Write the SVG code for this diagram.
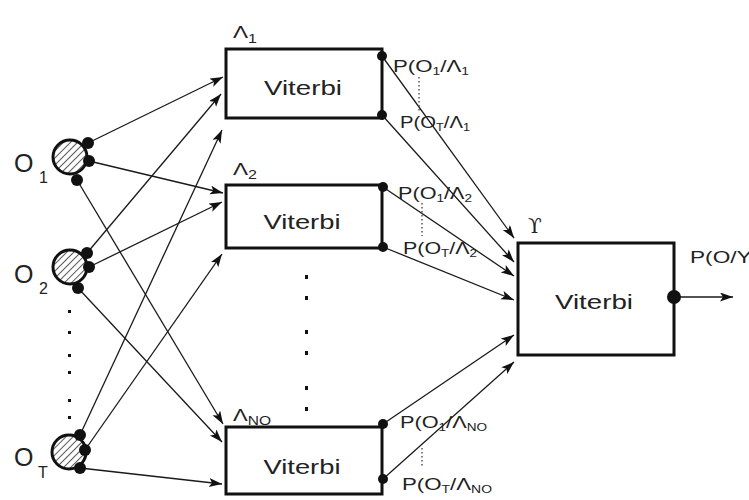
<svg xmlns="http://www.w3.org/2000/svg" width="749" height="500" viewBox="0 0 749 500">
<style>
.box{fill:#fff;stroke:#111;stroke-width:3}
.obs{fill:url(#hatch);stroke:#111;stroke-width:3}
.dot{fill:#111}
.edge{stroke:#1a1a1a;stroke-width:1.3;fill:none;marker-end:url(#arr)}
.vt{font-family:"Liberation Sans",Arial,sans-serif;font-size:21px;fill:#222}
.lbl{font-family:"Liberation Sans",Arial,sans-serif;font-size:16px;fill:#222}
.sub{font-size:10px}
.big{font-family:"Liberation Sans",Arial,sans-serif;font-size:25px;fill:#222}
.lam{font-family:"Liberation Sans",Arial,sans-serif;font-size:17px;fill:#222}
.vdots{stroke:#555;stroke-width:1.5;stroke-dasharray:1.5 2.5}
.ell{fill:#111}
</style>
<defs>
<pattern id="hatch" patternUnits="userSpaceOnUse" width="5" height="5" patternTransform="rotate(45)">
<rect width="5" height="5" fill="#fff"/>
<line x1="0" y1="0" x2="0" y2="5" stroke="#333" stroke-width="1.6"/>
</pattern>
<marker id="arr" markerUnits="userSpaceOnUse" markerWidth="14" markerHeight="10" refX="13" refY="4.5" orient="auto">
<path d="M0,0 L13,4.5 L0,9 L3,4.5 z" fill="#111"/>
</marker>
</defs>

<g id="connectors">
<line class="edge" x1="88" y1="143" x2="223" y2="77"/>
<line class="edge" x1="89" y1="161" x2="223" y2="193"/>
<line class="edge" x1="77" y1="180" x2="223" y2="424"/>
<line class="edge" x1="87" y1="253" x2="221" y2="94"/>
<line class="edge" x1="89" y1="267" x2="222" y2="202"/>
<line class="edge" x1="78" y1="288" x2="222" y2="442"/>
<line class="edge" x1="80" y1="435" x2="222" y2="130"/>
<line class="edge" x1="85" y1="450" x2="222" y2="254"/>
<line class="edge" x1="80" y1="468" x2="222" y2="484"/>
<line class="edge" x1="382" y1="56" x2="514" y2="238"/>
<line class="edge" x1="382" y1="115" x2="514" y2="262"/>
<line class="edge" x1="383" y1="187" x2="514" y2="276"/>
<line class="edge" x1="383" y1="247" x2="514" y2="300"/>
<line class="edge" x1="383" y1="424" x2="514" y2="335"/>
<line class="edge" x1="383" y1="479" x2="514" y2="362"/>
<line class="edge" x1="674" y1="297" x2="733" y2="297"/>
</g>

<g id="obs1">
<circle class="obs" cx="70" cy="157" r="17"/>
<circle class="dot" cx="88" cy="143" r="6"/>
<circle class="dot" cx="89" cy="161" r="6"/>
<circle class="dot" cx="77" cy="180" r="6"/>
<text class="big" x="14" y="172">O</text><text class="lbl" x="39" y="183" font-size="13">1</text>
</g>
<g id="obs2">
<circle class="obs" cx="70" cy="267" r="17"/>
<circle class="dot" cx="87" cy="253" r="6"/>
<circle class="dot" cx="89" cy="267" r="6"/>
<circle class="dot" cx="78" cy="288" r="6"/>
<text class="big" x="14" y="283">O</text><text class="lbl" x="39" y="294" font-size="13">2</text>
</g>
<g id="obsT">
<circle class="obs" cx="69" cy="452" r="17"/>
<circle class="dot" cx="80" cy="435" r="6"/>
<circle class="dot" cx="85" cy="450" r="6"/>
<circle class="dot" cx="80" cy="468" r="6"/>
<text class="big" x="14" y="466">O</text><text class="lbl" x="38" y="478" font-size="13">T</text>
</g>

<g id="obs-ellipsis">
<rect class="ell" x="68" y="310" width="3" height="3"/>
<rect class="ell" x="68" y="331" width="3" height="3"/>
<rect class="ell" x="68" y="354" width="3" height="3"/>
<rect class="ell" x="68" y="371" width="3" height="3"/>
<rect class="ell" x="68" y="399" width="3" height="3"/>
<rect class="ell" x="68" y="416" width="3" height="3"/>
</g>
<g id="box-ellipsis">
<rect class="ell" x="305" y="275" width="3" height="4"/>
<rect class="ell" x="305" y="296" width="3" height="4"/>
<rect class="ell" x="305" y="330" width="3" height="4"/>
<rect class="ell" x="305" y="351" width="3" height="4"/>
<rect class="ell" x="305" y="386" width="3" height="4"/>
<rect class="ell" x="305" y="407" width="3" height="4"/>
</g>

<g id="box1">
<rect class="box" x="226" y="49" width="156" height="69"/>
<text class="vt" x="303" y="95" text-anchor="middle" textLength="78" lengthAdjust="spacingAndGlyphs">Viterbi</text>
<text class="lam" x="233" y="38" textLength="24" lengthAdjust="spacingAndGlyphs">Λ<tspan font-size="12" dy="5">1</tspan></text>
<circle class="dot" cx="382" cy="56" r="5"/>
<circle class="dot" cx="382" cy="115" r="5"/>
<text class="lbl" x="393" y="72" textLength="76" lengthAdjust="spacingAndGlyphs">P(O<tspan class="sub" dy="3">1</tspan><tspan dy="-3">/Λ</tspan><tspan class="sub" dy="3">1</tspan></text>
<line class="vdots" x1="419" y1="77" x2="419" y2="112"/>
<text class="lbl" x="400" y="128" textLength="70" lengthAdjust="spacingAndGlyphs">P(O<tspan class="sub" dy="3">T</tspan><tspan dy="-3">/Λ</tspan><tspan class="sub" dy="3">1</tspan></text>
</g>

<g id="box2">
<rect class="box" x="226" y="185" width="156" height="63"/>
<text class="vt" x="302" y="229" text-anchor="middle" textLength="77" lengthAdjust="spacingAndGlyphs">Viterbi</text>
<text class="lam" x="233" y="175" textLength="24" lengthAdjust="spacingAndGlyphs">Λ<tspan font-size="12" dy="4">2</tspan></text>
<circle class="dot" cx="383" cy="187" r="5"/>
<circle class="dot" cx="383" cy="247" r="5"/>
<text class="lbl" x="398" y="199" textLength="74" lengthAdjust="spacingAndGlyphs">P(O<tspan class="sub" dy="3">1</tspan><tspan dy="-3">/Λ</tspan><tspan class="sub" dy="3">2</tspan></text>
<line class="vdots" x1="422" y1="203" x2="422" y2="236"/>
<text class="lbl" x="403" y="254" textLength="74" lengthAdjust="spacingAndGlyphs">P(O<tspan class="sub" dy="3">T</tspan><tspan dy="-3">/Λ</tspan><tspan class="sub" dy="3">2</tspan></text>
</g>

<g id="box3">
<rect class="box" x="226" y="427" width="156" height="67"/>
<text class="vt" x="302" y="474" text-anchor="middle" textLength="77" lengthAdjust="spacingAndGlyphs">Viterbi</text>
<text class="lam" x="233" y="421" textLength="38" lengthAdjust="spacingAndGlyphs">Λ<tspan font-size="12" dy="4">NO</tspan></text>
<circle class="dot" cx="383" cy="424" r="5"/>
<circle class="dot" cx="383" cy="479" r="5"/>
<text class="lbl" x="400" y="428" textLength="87" lengthAdjust="spacingAndGlyphs">P(O<tspan class="sub" dy="3">1</tspan><tspan dy="-3">/Λ</tspan><tspan class="sub" dy="3">NO</tspan></text>
<line class="vdots" x1="422" y1="448" x2="422" y2="468"/>
<text class="lbl" x="402" y="490" textLength="90" lengthAdjust="spacingAndGlyphs">P(O<tspan class="sub" dy="3">T</tspan><tspan dy="-3">/Λ</tspan><tspan class="sub" dy="3">NO</tspan></text>
</g>

<g id="boxY">
<rect class="box" x="518" y="243" width="156" height="112"/>
<text class="vt" x="594" y="309" text-anchor="middle" font-size="24" textLength="78" lengthAdjust="spacingAndGlyphs">Viterbi</text>
<text x="528" y="233" font-family="DejaVu Serif, serif" font-size="20" fill="#222">ϒ</text>
<circle class="dot" cx="674" cy="297" r="7"/>
<text class="lbl" x="690" y="263" font-size="17" textLength="64" lengthAdjust="spacingAndGlyphs">P(O/ϒ</text>
</g>
</svg>
